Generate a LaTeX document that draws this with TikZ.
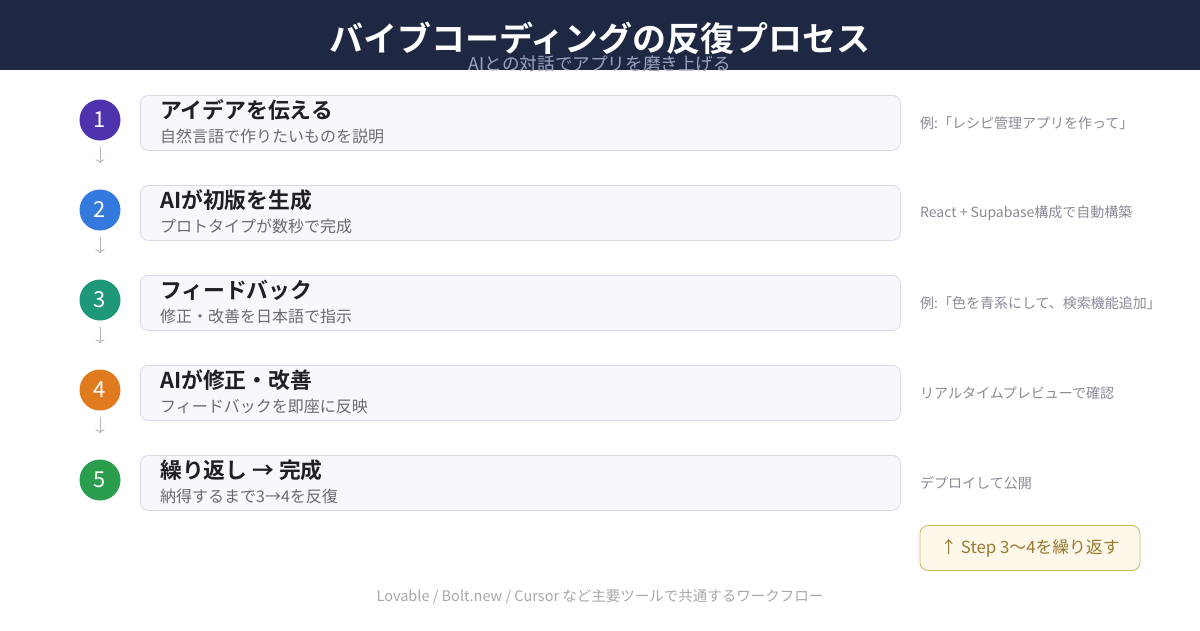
\documentclass[tikz,border=0pt]{standalone}
\usepackage{fontspec}
\setmainfont{Noto Sans CJK JP}[BoldFont={* Bold}]
\usetikzlibrary{arrows.meta}

\definecolor{headbg}{HTML}{1E2842}
\definecolor{subtitlecol}{HTML}{9AA6C0}
\definecolor{boxfill}{HTML}{F7F8FD}
\definecolor{boxline}{HTML}{D9D9EC}
\definecolor{titlecol}{HTML}{1F1F24}
\definecolor{desccol}{HTML}{6A6A70}
\definecolor{notecol}{HTML}{8A8A98}
\definecolor{arrowcol}{HTML}{B4B4B8}
\definecolor{stepA}{HTML}{4F32AE}
\definecolor{stepB}{HTML}{3479DE}
\definecolor{stepC}{HTML}{1E9878}
\definecolor{stepD}{HTML}{DF7A1F}
\definecolor{stepE}{HTML}{2A9E4C}
\definecolor{loopfill}{HTML}{FDF8E9}
\definecolor{loopline}{HTML}{D4B65E}
\definecolor{looptext}{HTML}{9A7A30}
\definecolor{footcol}{HTML}{A8A8AC}

\begin{document}
\begin{tikzpicture}
[
    x=1pt, y=-1pt,
    num/.style={circle, minimum size=41pt, inner sep=0pt, text=white, font=\fontsize{22}{22}\selectfont},
    stepbox/.style={draw=boxline, fill=boxfill, rounded corners=8pt, line width=0.8pt,
        minimum width=760pt, minimum height=55pt, inner sep=0pt, anchor=north west},
    steptitle/.style={anchor=west, inner sep=0pt, text=titlecol, font=\fontsize{21.8}{21.8}\selectfont\bfseries},
    stepdesc/.style={anchor=west, inner sep=0pt, text=desccol, font=\fontsize{16}{16}\selectfont},
    note/.style={anchor=west, inner sep=0pt, text=notecol, font=\fontsize{14}{14}\selectfont},
    steparrow/.style={draw=arrowcol, line width=0.9pt, -{To[length=4pt, width=9pt]}},
]
\useasboundingbox (0,0) rectangle (1200,630);
\fill[white] (0,0) rectangle (1200,630);

% header
\fill[headbg] (0,0) rectangle (1200,70);
\node (title) [inner sep=0pt, text=white, font=\fontsize{34}{34}\selectfont\bfseries] at (600,38)
{バイブコーディングの反復プロセス};
\node (subtitle) [inner sep=0pt, text=subtitlecol, font=\fontsize{17.6}{17.6}\selectfont] at (600,64)
{AIとの対話でアプリを磨き上げる};

% steps
\node (n1) [num, fill=stepA] at (100,120) {1};
\node (box1) [stepbox] at (140,95) {};
\node (t1) [steptitle] at (160,110) {アイデアを伝える};
\node (d1) [stepdesc] at (160,136) {自然言語で作りたいものを説明};
\node (note1) [note] at (920,123) {例:「レシピ管理アプリを作って」};

\node (n2) [num, fill=stepB] at (100,210) {2};
\node (box2) [stepbox] at (140,185) {};
\node (t2) [steptitle] at (160,200) {AIが初版を生成};
\node (d2) [stepdesc] at (160,226) {プロトタイプが数秒で完成};
\node (note2) [note] at (920,213) {React + Supabase構成で自動構築};

\node (n3) [num, fill=stepC] at (100,300) {3};
\node (box3) [stepbox] at (140,275) {};
\node (t3) [steptitle] at (160,290) {フィードバック};
\node (d3) [stepdesc] at (160,316) {修正・改善を日本語で指示};
\node (note3) [note] at (920,303) {例:「色を青系にして、検索機能追加」};

\node (n4) [num, fill=stepD] at (100,390) {4};
\node (box4) [stepbox] at (140,365) {};
\node (t4) [steptitle] at (160,380) {AIが修正・改善};
\node (d4) [stepdesc] at (160,406) {フィードバックを即座に反映};
\node (note4) [note] at (920,393) {リアルタイムプレビューで確認};

\node (n5) [num, fill=stepE] at (100,480) {5};
\node (box5) [stepbox] at (140,455) {};
\node (t5) [steptitle] at (160,470) {繰り返し → 完成};
\node (d5) [stepdesc] at (160,496) {納得するまで3→4を反復};
\node (note5) [note] at (920,483) {デプロイして公開};

% arrows between steps
\draw[steparrow] ([yshift=-6pt]n1.south) -- ([yshift=26pt]n2.north);
\draw[steparrow] ([yshift=-6pt]n2.south) -- ([yshift=26pt]n3.north);
\draw[steparrow] ([yshift=-6pt]n3.south) -- ([yshift=26pt]n4.north);
\draw[steparrow] ([yshift=-6pt]n4.south) -- ([yshift=26pt]n5.north);

% loop hint
\node (loop) [draw=loopline, fill=loopfill, rounded corners=8pt, line width=0.8pt,
    minimum width=220pt, minimum height=45pt, inner sep=0pt, text=looptext,
    font=\fontsize{16.8}{16.8}\selectfont] at (1030,548) {↑ Step 3〜4を繰り返す};

% footer
\node (footer) [inner sep=0pt, text=footcol, font=\fontsize{14.5}{14.5}\selectfont] at (600,597)
{Lovable / Bolt.new / Cursor など主要ツールで共通するワークフロー};
\end{tikzpicture}
\end{document}
